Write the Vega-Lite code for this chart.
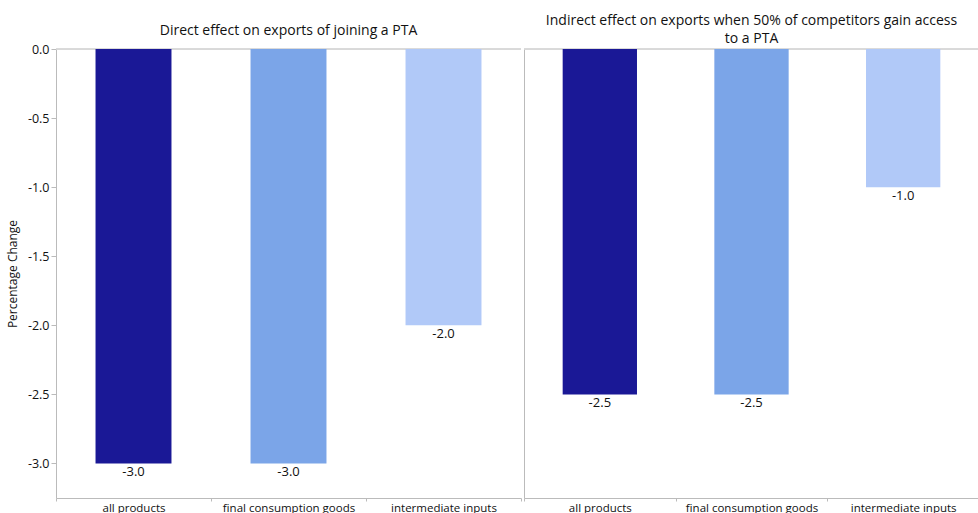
{
  "$schema": "https://vega.github.io/schema/vega-lite/v6.json",
  "padding": {"left": 6, "top": 13, "right": 0, "bottom": 0},
  "spacing": 1,
  "config": {
    "view": {"stroke": null},
    "font": "Open Sans",
    "locale": {"number": {"decimal": ".", "thousands": ",", "grouping": [3], "currency": ["$", ""], "minus": "-"}}
  },
  "datasets": {
    "direct": [
      {"category": "all products", "value": -3.0},
      {"category": "final consumption goods", "value": -3.0},
      {"category": "intermediate inputs", "value": -2.0}
    ],
    "indirect": [
      {"category": "all products", "value": -2.5},
      {"category": "final consumption goods", "value": -2.5},
      {"category": "intermediate inputs", "value": -1.0}
    ]
  },
  "hconcat": [
    {
      "width": 465,
      "height": 449,
      "title": {"text": "Direct effect on exports of joining a PTA", "fontSize": 14, "fontWeight": "normal", "offset": 5, "color": "#111"},
      "data": {"name": "direct"},
      "layer": [
        {"mark": {"type": "rule", "color": "#d4d4d4"}, "encoding": {"y": {"datum": 0, "type": "quantitative"}}},
        {
          "mark": {"type": "bar", "width": {"band": 0.49}},
          "encoding": {
            "x": {"field": "category", "type": "nominal", "sort": null, "scale": {"paddingInner": 0, "paddingOuter": 0},
              "axis": {"title": null, "labelAngle": 0, "domainColor": "#bbbbbb", "tickColor": "#bbbbbb", "tickSize": 3, "tickBand": "extent", "labelPadding": 1, "labelFontSize": 11.5, "labelColor": "#111111"}},
            "y": {"field": "value", "type": "quantitative", "scale": {"domain": [-3.25, 0], "nice": false},
              "axis": {"values": [0, -0.5, -1, -1.5, -2, -2.5, -3], "format": ".1f", "title": "Percentage Change", "grid": false, "domainColor": "#bbbbbb", "tickColor": "#bbbbbb", "tickSize": 5, "labelPadding": 2, "labelFontSize": 12.5, "labelColor": "#111111", "titleFontSize": 12, "titleFontWeight": "normal", "titleColor": "#111111", "titlePadding": 8}},
            "color": {"field": "category", "type": "nominal", "scale": {"domain": ["all products", "final consumption goods", "intermediate inputs"], "range": ["#1a1896", "#7ba5e8", "#b1c9f8"]}, "legend": null}
          }
        },
        {
          "mark": {"type": "text", "baseline": "top", "dy": 3, "fontSize": 13, "color": "#111111"},
          "encoding": {
            "x": {"field": "category", "type": "nominal", "sort": null},
            "y": {"field": "value", "type": "quantitative"},
            "text": {"field": "value", "type": "quantitative", "format": ".1f"}
          }
        }
      ]
    },
    {
      "width": 455,
      "height": 449,
      "title": {"text": ["Indirect effect on exports when 50% of competitors gain access", "to a PTA"], "fontSize": 14, "fontWeight": "normal", "offset": 3, "color": "#111", "lineHeight": 18},
      "data": {"name": "indirect"},
      "layer": [
        {"mark": {"type": "rule", "color": "#d4d4d4"}, "encoding": {"y": {"datum": 0, "type": "quantitative"}}},
        {
          "mark": {"type": "bar", "width": {"band": 0.49}},
          "encoding": {
            "x": {"field": "category", "type": "nominal", "sort": null, "scale": {"paddingInner": 0, "paddingOuter": 0},
              "axis": {"title": null, "labelAngle": 0, "domainColor": "#bbbbbb", "tickColor": "#bbbbbb", "tickSize": 3, "tickBand": "extent", "labelPadding": 1, "labelFontSize": 11.5, "labelColor": "#111111"}},
            "y": {"field": "value", "type": "quantitative", "scale": {"domain": [-3.25, 0], "nice": false},
              "axis": {"title": null, "labels": false, "ticks": false, "grid": false, "domainColor": "#bbbbbb"}},
            "color": {"field": "category", "type": "nominal", "scale": {"domain": ["all products", "final consumption goods", "intermediate inputs"], "range": ["#1a1896", "#7ba5e8", "#b1c9f8"]}, "legend": null}
          }
        },
        {
          "mark": {"type": "text", "baseline": "top", "dy": 3, "fontSize": 13, "color": "#111111"},
          "encoding": {
            "x": {"field": "category", "type": "nominal", "sort": null},
            "y": {"field": "value", "type": "quantitative"},
            "text": {"field": "value", "type": "quantitative", "format": ".1f"}
          }
        }
      ]
    }
  ]
}
